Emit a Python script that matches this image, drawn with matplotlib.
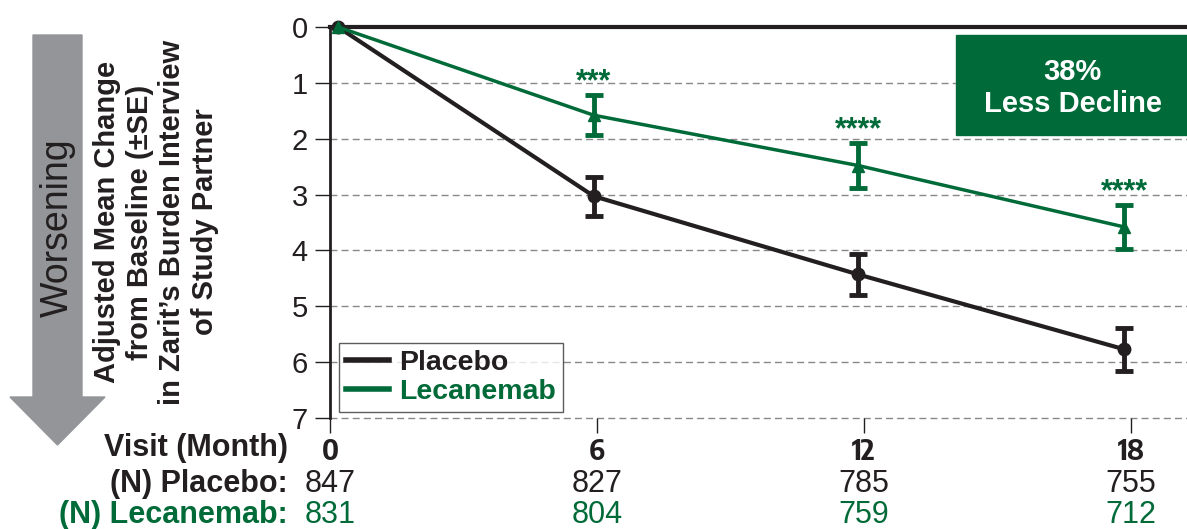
import matplotlib
matplotlib.use("Agg")
import matplotlib.pyplot as plt
import matplotlib.transforms as mtransforms
from matplotlib import font_manager as fm
from matplotlib.patches import Polygon, Rectangle
from matplotlib.lines import Line2D

plt.rcParams['font.family'] = ['Liberation Sans', 'DejaVu Sans']

months = [0, 6, 12, 18]                 # visit (month) tick values
visit_x = [0.18, 5.93, 11.87, 17.85]    # plotted x of each visit
placebo_mean = [0, 3.03, 4.43, 5.77]
placebo_se = [0, 0.35, 0.37, 0.38]
lec_mean = [0, 1.58, 2.48, 3.58]
lec_se = [0, 0.36, 0.41, 0.39]
sig_labels = ["", "***", "****", "****"]
n_placebo = [847, 827, 785, 755]
n_lec = [831, 804, 759, 712]
yticks = [0, 1, 2, 3, 4, 5, 6, 7]

BLACK = "#231f20"
GREEN = "#006b38"
GRAY = "#939598"

# narrow font for bold month ticks if available
narrow_names = sorted({f.name for f in fm.fontManager.ttflist
                       if "Narrow" in f.name or "Condensed" in f.name})
NARROW = [n for n in narrow_names if "Liberation" in n] or \
         [n for n in narrow_names if "Sans" in n]
NARROW = NARROW[:1] + ['Liberation Sans']

W, H = 1187, 529
fig = plt.figure(figsize=(W / 100, H / 100), dpi=100)
ax = fig.add_axes([330 / W, 1 - 418 / H, 1 - 330 / W, (418 - 27) / H])

ax.set_xlim(0, 19.26)
ax.set_ylim(7, 0)

for y in yticks[1:]:
    ax.axhline(y, color="#888888", lw=1, ls=(0, (5, 3)), zorder=0, clip_on=False)
ax.axhline(0, color=BLACK, lw=3, zorder=1, clip_on=False)

ax.errorbar(visit_x[1:], placebo_mean[1:], yerr=placebo_se[1:], fmt="none",
            ecolor=BLACK, elinewidth=3.5, capsize=6.5, capthick=3.5, zorder=3)
ax.errorbar(visit_x[1:], lec_mean[1:], yerr=lec_se[1:], fmt="none",
            ecolor=GREEN, elinewidth=3.5, capsize=6.5, capthick=3.5, zorder=3)
ax.plot(visit_x, placebo_mean, color=BLACK, lw=3, marker="o", ms=9,
        zorder=4, clip_on=False)
ax.plot(visit_x, lec_mean, color=GREEN, lw=2.5, marker="^", ms=8.5,
        zorder=5, clip_on=False)

for m, mean, se, s in zip(visit_x, lec_mean, lec_se, sig_labels):
    if s:
        ax.text(m, mean - se - 0.08, s, color=GREEN, fontsize=22,
                fontweight="bold", ha="center", va="baseline")

# spines / ticks
for sp in ["top", "right", "bottom"]:
    ax.spines[sp].set_visible(False)
ax.spines["left"].set_linewidth(2)
ax.spines["left"].set_color(BLACK)
ax.set_yticks(yticks)
ax.set_yticklabels([str(v) for v in yticks], fontsize=21, color=BLACK)
ax.tick_params(axis="y", direction="out", length=11, width=1, pad=5, colors=BLACK)
ax.set_xticks(months)
ax.set_xticklabels([str(m) for m in months], fontsize=21, fontweight="bold",
                   color=BLACK, family=NARROW)
ax.tick_params(axis="x", direction="out", length=11, width=1, pad=3, colors=BLACK)

# legend
handles = [Line2D([0], [0], color=BLACK, lw=4), Line2D([0], [0], color=GREEN, lw=4)]
leg = ax.legend(handles, ["Placebo", "Lecanemab"], loc="lower left",
                bbox_to_anchor=(9 / 857, 6 / 391), frameon=True, fancybox=False,
                edgecolor="#333333", handlelength=1.5,
                handletextpad=0.35, borderpad=0.25, labelspacing=0.1,
                borderaxespad=0, prop={"weight": "bold", "size": 20.5})
leg.get_frame().set_linewidth(1)
for t, c in zip(leg.get_texts(), [BLACK, GREEN]):
    t.set_color(c)

# green box
fig.patches.append(Rectangle((956 / W, 1 - 135 / H), (W - 956) / W, 100 / H,
                             transform=fig.transFigure, color=GREEN, zorder=6))
fig.text((956 + W) / 2 / W + 0.001, 1 - 88 / H, "38%\nLess Decline", color="white",
         fontsize=21, fontweight="bold", ha="center", va="center",
         linespacing=1.2, zorder=7)

# bottom table
trans = mtransforms.blended_transform_factory(ax.transData, fig.transFigure)
fig.text(288 / W, 1 - 448 / H, "Visit (Month)", fontsize=22, fontweight="bold",
         ha="right", va="center", color=BLACK)
fig.text(288 / W, 1 - 484 / H, "(N) Placebo:", fontsize=22, fontweight="bold",
         ha="right", va="center", color=BLACK)
fig.text(288 / W, 1 - 515 / H, "(N) Lecanemab:", fontsize=22, fontweight="bold",
         ha="right", va="center", color=GREEN)
for m, a, b in zip(months, n_placebo, n_lec):
    ax.text(m, 1 - 484 / H, str(a), transform=trans, fontsize=22, ha="center",
            va="center", color=BLACK)
    ax.text(m, 1 - 515 / H, str(b), transform=trans, fontsize=22, ha="center",
            va="center", color=GREEN)

# worsening arrow
pts = [(33, 35), (82, 35), (82, 397), (105, 397), (57.5, 445), (10, 397), (33, 397)]
fig.patches.append(Polygon([(x / W, 1 - y / H) for x, y in pts], closed=True,
                           transform=fig.transFigure, color=GRAY, zorder=1))
fig.text(58 / W, 1 - 228 / H, "Worsening", rotation=90, fontsize=27,
         ha="center", va="center", color=BLACK, zorder=2)

# y label
fig.text(156 / W, 1 - 222 / H,
         "Adjusted Mean Change\nfrom Baseline (±SE)\nin Zarit\u2019s Burden Interview\nof Study Partner",
         rotation=90, fontsize=21, fontweight="bold", ha="center", va="center",
         color=BLACK, linespacing=1.22, multialignment="center")

fig.savefig("out.png", dpi=100)
